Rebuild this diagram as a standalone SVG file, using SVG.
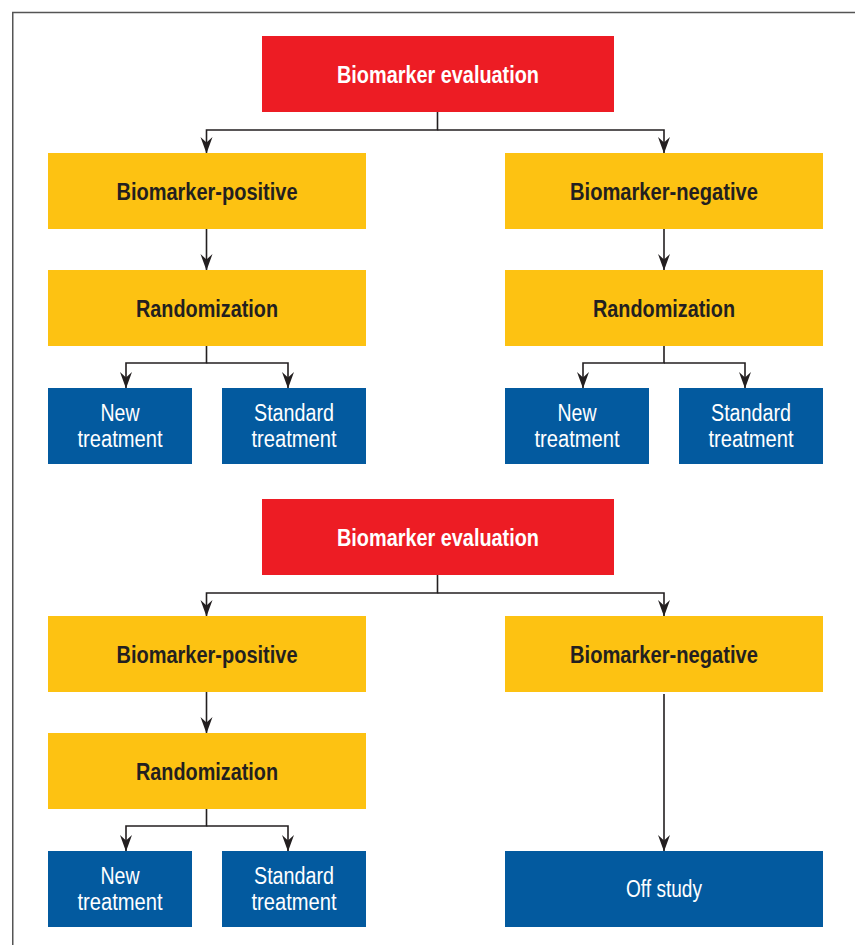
<svg xmlns="http://www.w3.org/2000/svg" width="855" height="945" viewBox="0 0 855 945">
<style>
.red{fill:#ED1C24}
.yel{fill:#FDC212}
.blu{fill:#035A9F}
.tb{font-family:"Liberation Sans",Arial,sans-serif;font-weight:bold;font-size:23px;text-anchor:middle}
.tw{fill:#FFFFFF}
.tk{fill:#231F20}
.tr{font-family:"Liberation Sans",Arial,sans-serif;font-size:23px;text-anchor:middle;fill:#FFFFFF}
.con{fill:none;stroke:#231F20;stroke-width:1.6;marker-end:url(#ah)}
</style>
<defs>
<marker id="ah" markerUnits="userSpaceOnUse" markerWidth="18" markerHeight="14" viewBox="-17 -7 18 14" refX="0" refY="0" orient="auto">
<path d="M0.5,0 L-16,-6 L-10.5,0 L-16,6 Z" fill="#231F20"/>
</marker>
</defs>
<rect width="855" height="945" fill="#FFFFFF"/>
<path d="M855,12.5 H12.75 V945" fill="none" stroke="#555555" stroke-width="1.5"/>

<g id="connectors">
<path class="con" d="M437.5,112 V130 H206.5 V153"/>
<path class="con" d="M437.5,130 H664 V153"/>
<path class="con" d="M206.5,229 V270"/>
<path class="con" d="M664,229 V270"/>
<path class="con" d="M206.5,346 V363 H126 V388"/>
<path class="con" d="M206.5,363 H288 V388"/>
<path class="con" d="M664,346 V363 H583 V388"/>
<path class="con" d="M664,363 H745 V388"/>
<path class="con" d="M437.5,575 V593 H206.5 V616"/>
<path class="con" d="M437.5,593 H664 V616"/>
<path class="con" d="M206.5,692 V733"/>
<path class="con" d="M206.5,809 V826 H126 V851"/>
<path class="con" d="M206.5,826 H288 V851"/>
<path class="con" d="M664,694 V851"/>
</g>

<g id="eval1"><rect class="red" x="262" y="36" width="352" height="76"/><text class="tb tw" x="438" y="82.5" textLength="202" lengthAdjust="spacingAndGlyphs">Biomarker evaluation</text></g>
<g id="pos1"><rect class="yel" x="48" y="153" width="318" height="76"/><text class="tb tk" x="207" y="199.5" textLength="181" lengthAdjust="spacingAndGlyphs">Biomarker-positive</text></g>
<g id="neg1"><rect class="yel" x="505" y="153" width="318" height="76"/><text class="tb tk" x="664" y="199.5" textLength="188" lengthAdjust="spacingAndGlyphs">Biomarker-negative</text></g>
<g id="rand1L"><rect class="yel" x="48" y="270" width="318" height="76"/><text class="tb tk" x="207" y="316.5" textLength="142" lengthAdjust="spacingAndGlyphs">Randomization</text></g>
<g id="rand1R"><rect class="yel" x="505" y="270" width="318" height="76"/><text class="tb tk" x="664" y="316.5" textLength="142" lengthAdjust="spacingAndGlyphs">Randomization</text></g>
<g id="new1L"><rect class="blu" x="48" y="388" width="144" height="76"/><text class="tr" x="120" y="421" textLength="39" lengthAdjust="spacingAndGlyphs">New</text><text class="tr" x="120" y="447" textLength="85" lengthAdjust="spacingAndGlyphs">treatment</text></g>
<g id="std1L"><rect class="blu" x="222" y="388" width="144" height="76"/><text class="tr" x="294" y="421" textLength="80" lengthAdjust="spacingAndGlyphs">Standard</text><text class="tr" x="294" y="447" textLength="85" lengthAdjust="spacingAndGlyphs">treatment</text></g>
<g id="new1R"><rect class="blu" x="505" y="388" width="144" height="76"/><text class="tr" x="577" y="421" textLength="39" lengthAdjust="spacingAndGlyphs">New</text><text class="tr" x="577" y="447" textLength="85" lengthAdjust="spacingAndGlyphs">treatment</text></g>
<g id="std1R"><rect class="blu" x="679" y="388" width="144" height="76"/><text class="tr" x="751" y="421" textLength="80" lengthAdjust="spacingAndGlyphs">Standard</text><text class="tr" x="751" y="447" textLength="85" lengthAdjust="spacingAndGlyphs">treatment</text></g>

<g id="eval2"><rect class="red" x="262" y="499" width="352" height="76"/><text class="tb tw" x="438" y="545.5" textLength="202" lengthAdjust="spacingAndGlyphs">Biomarker evaluation</text></g>
<g id="pos2"><rect class="yel" x="48" y="616" width="318" height="76"/><text class="tb tk" x="207" y="662.5" textLength="181" lengthAdjust="spacingAndGlyphs">Biomarker-positive</text></g>
<g id="neg2"><rect class="yel" x="505" y="616" width="318" height="76"/><text class="tb tk" x="664" y="662.5" textLength="188" lengthAdjust="spacingAndGlyphs">Biomarker-negative</text></g>
<g id="rand2"><rect class="yel" x="48" y="733" width="318" height="76"/><text class="tb tk" x="207" y="779.5" textLength="142" lengthAdjust="spacingAndGlyphs">Randomization</text></g>
<g id="new2"><rect class="blu" x="48" y="851" width="144" height="76"/><text class="tr" x="120" y="884" textLength="39" lengthAdjust="spacingAndGlyphs">New</text><text class="tr" x="120" y="910" textLength="85" lengthAdjust="spacingAndGlyphs">treatment</text></g>
<g id="std2"><rect class="blu" x="222" y="851" width="144" height="76"/><text class="tr" x="294" y="884" textLength="80" lengthAdjust="spacingAndGlyphs">Standard</text><text class="tr" x="294" y="910" textLength="85" lengthAdjust="spacingAndGlyphs">treatment</text></g>
<g id="off"><rect class="blu" x="505" y="851" width="318" height="76"/><text class="tr" x="664" y="897" textLength="76" lengthAdjust="spacingAndGlyphs">Off study</text></g>
</svg>
